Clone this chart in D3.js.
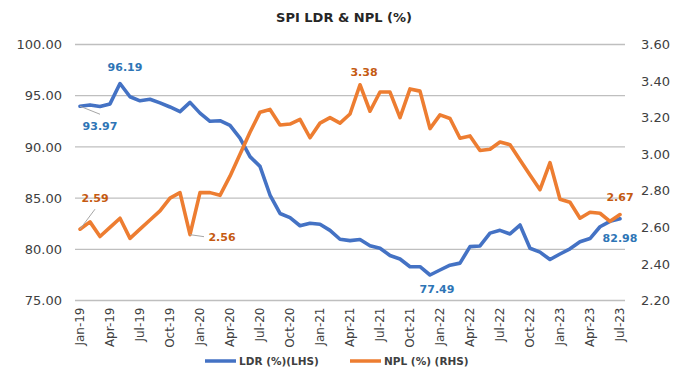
<!DOCTYPE html>
<html>
<head>
<meta charset="utf-8">
<script src="https://cdn.jsdelivr.net/npm/d3@7"></script>
<style>
  html, body { margin: 0; padding: 0; background: #ffffff; }
  svg { display: block; }
</style>
</head>
<body>
<svg id="chart" width="688" height="384"></svg>
<script>
// Monthly series, Jan-19 .. Jul-23
const months = (() => {
  const names = ["Jan","Feb","Mar","Apr","May","Jun","Jul","Aug","Sep","Oct","Nov","Dec"];
  const out = [];
  for (let y = 19; y <= 23; y++) {
    for (let m = 0; m < 12; m++) {
      if (y === 23 && m > 6) break;
      out.push(names[m] + "-" + y);
    }
  }
  return out;
})();

// Loan-to-deposit ratio (%), left axis
const ldr = [
  93.97, 94.10, 93.95, 94.20, 96.19, 94.90, 94.50, 94.65, 94.30, 93.90, 93.45, 94.35,
  93.30, 92.50, 92.56, 92.10, 90.85, 89.05, 88.10, 85.30, 83.50, 83.10, 82.30, 82.55,
  82.45, 81.85, 80.98, 80.85, 80.95, 80.35, 80.10, 79.40, 79.05, 78.30, 78.30, 77.49,
  77.98, 78.45, 78.65, 80.26, 80.33, 81.58, 81.85, 81.50, 82.37, 80.10, 79.72, 79.00,
  79.54, 80.05, 80.74, 81.05, 82.20, 82.73, 82.98
];

// Non-performing loans (%), right axis
const npl = [
  2.59, 2.63, 2.55, 2.60, 2.65, 2.54, 2.59, 2.64, 2.69, 2.76, 2.79, 2.56,
  2.79, 2.79, 2.775, 2.88, 3.00, 3.12, 3.23, 3.245, 3.16, 3.165, 3.19, 3.09,
  3.17, 3.20, 3.17, 3.22, 3.38, 3.235, 3.34, 3.34, 3.20, 3.357, 3.345, 3.14,
  3.215, 3.195, 3.087, 3.10, 3.02, 3.027, 3.067, 3.052, 2.968, 2.886, 2.806, 2.954,
  2.754, 2.737, 2.65, 2.683, 2.677, 2.633, 2.67
];

const leftTicks = [75, 80, 85, 90, 95, 100];
const rightTicks = [2.2, 2.4, 2.6, 2.8, 3.0, 3.2, 3.4, 3.6];
const shownMonths = months.filter((d, i) => i % 3 === 0);

// Labelled points: index, offset, optional leader line
const ldrLabels = [
  { i: 0,  dx: 20, dy: 20, leader: true },
  { i: 4,  dx: 5,  dy: -16 },
  { i: 35, dx: 7,  dy: 14 },
  { i: 54, dx: 0,  dy: 19 }
];
const nplLabels = [
  { i: 0,  dx: 15, dy: -31, leader: true },
  { i: 11, dx: 32, dy: 2, leader: true },
  { i: 28, dx: 4,  dy: -13 },
  { i: 54, dx: 0,  dy: -17 }
];

const BLUE = "#4472C4", ORANGE = "#ED7D31";
const BLUE_TXT = "#2E75B6", ORANGE_TXT = "#C55A11";
const FONT = "'DejaVu Sans', Verdana, sans-serif";

const svg = d3.select("#chart");

const x = d3.scaleBand().domain(months).range([75, 625]);
const cx = d => x(d) + x.bandwidth() / 2;
const yL = d3.scaleLinear().domain([75, 100]).range([300.5, 44.5]);
const yR = d3.scaleLinear().domain([2.2, 3.6]).range([300.5, 44.5]);

// Title
svg.append("text")
  .attr("x", 344).attr("y", 22)
  .attr("text-anchor", "middle")
  .attr("font-family", FONT).attr("font-weight", "bold")
  .attr("font-size", 13).attr("fill", "#262626")
  .text("SPI LDR & NPL (%)");

// Horizontal gridlines (left axis ticks)
svg.append("g").selectAll("line").data(leftTicks).join("line")
  .attr("x1", 75).attr("x2", 625)
  .attr("y1", d => yL(d)).attr("y2", d => yL(d))
  .attr("stroke", "#BFBFBF").attr("stroke-width", 1.3);

// Left axis
const axL = svg.append("g").attr("transform", "translate(75,0)")
  .call(d3.axisLeft(yL).tickValues(leftTicks).tickFormat(d3.format(".2f")).tickSize(0).tickPadding(13));
axL.select(".domain").remove();
axL.selectAll("text").attr("font-family", FONT).attr("font-size", 13).attr("fill", "#404040");

// Right axis
const axR = svg.append("g").attr("transform", "translate(625,0)")
  .call(d3.axisRight(yR).tickValues(rightTicks).tickFormat(d3.format(".2f")).tickSize(0).tickPadding(16));
axR.select(".domain").remove();
axR.selectAll("text").attr("font-family", FONT).attr("font-size", 13).attr("fill", "#404040");

// Bottom axis, quarterly labels rotated
const axB = svg.append("g").attr("transform", "translate(0,300.5)")
  .call(d3.axisBottom(x).tickValues(shownMonths).tickSize(0).tickPadding(0));
axB.select(".domain").remove();
axB.selectAll("text")
  .attr("font-family", FONT).attr("font-size", 12).attr("fill", "#404040")
  .attr("text-anchor", "end")
  .attr("transform", "translate(0,7) rotate(-90)")
  .attr("x", 0).attr("y", 0).attr("dy", "0.35em");

// Series lines
const lineL = d3.line().x((d, i) => cx(months[i])).y(d => yL(d));
const lineR = d3.line().x((d, i) => cx(months[i])).y(d => yR(d));

svg.append("path").datum(ldr).attr("d", lineL)
  .attr("fill", "none").attr("stroke", BLUE).attr("stroke-width", 3.6)
  .attr("stroke-linejoin", "round").attr("stroke-linecap", "round");
svg.append("path").datum(npl).attr("d", lineR)
  .attr("fill", "none").attr("stroke", ORANGE).attr("stroke-width", 3.6)
  .attr("stroke-linejoin", "round").attr("stroke-linecap", "round");

// Data labels
function drawLabels(list, values, yScale, fmt, color) {
  const g = svg.append("g");
  list.forEach(l => {
    const px = cx(months[l.i]), py = yScale(values[l.i]);
    const tx = px + l.dx, ty = py + l.dy;
    if (l.leader) {
      // short gray connector from the point towards the label
      const ex = l.dx > 25 ? tx - 18 : tx;
      const ey = l.dx > 25 ? ty : (l.dy > 0 ? ty - 12 : ty + 11);
      g.append("line").attr("x1", px).attr("y1", py).attr("x2", ex).attr("y2", ey)
        .attr("stroke", "#A6A6A6").attr("stroke-width", 1);
    }
    g.append("text")
      .attr("x", tx).attr("y", ty).attr("dy", "0.35em")
      .attr("text-anchor", "middle")
      .attr("font-family", FONT).attr("font-weight", "bold")
      .attr("font-size", 11).attr("fill", color)
      .text(fmt(values[l.i]));
  });
}
drawLabels(ldrLabels, ldr, yL, d3.format(".2f"), BLUE_TXT);
drawLabels(nplLabels, npl, yR, d3.format(".2f"), ORANGE_TXT);

// Legend
const legend = [
  { name: "LDR (%)(LHS)", color: BLUE, x: 205 },
  { name: "NPL (%) (RHS)", color: ORANGE, x: 350 }
];
const lg = svg.append("g");
legend.forEach(l => {
  lg.append("line").attr("x1", l.x).attr("x2", l.x + 31).attr("y1", 361).attr("y2", 361)
    .attr("stroke", l.color).attr("stroke-width", 3.5);
  lg.append("text").attr("x", l.x + 34).attr("y", 361).attr("dy", "0.35em")
    .attr("font-family", FONT).attr("font-weight", "bold")
    .attr("font-size", 10.5).attr("fill", "#404040")
    .text(l.name);
});
</script>
</body>
</html>
